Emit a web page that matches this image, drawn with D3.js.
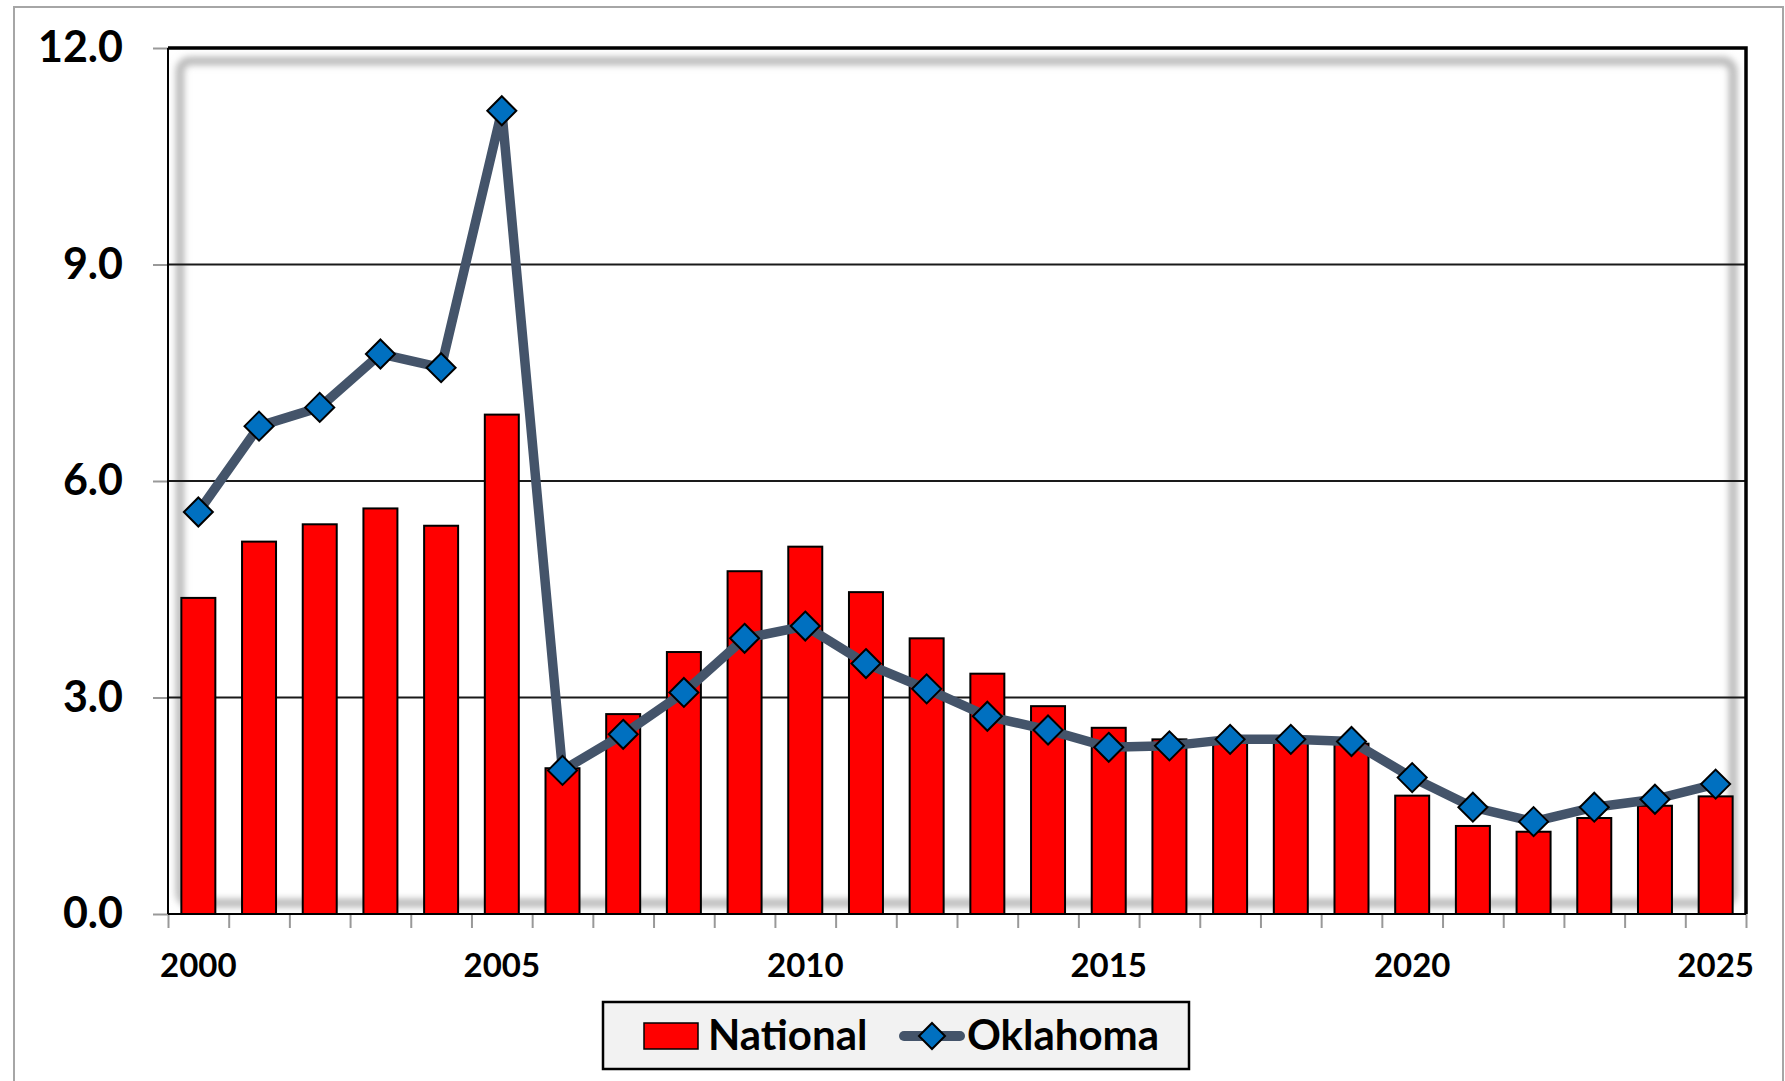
<!DOCTYPE html>
<html>
<head>
<meta charset="utf-8">
<script src="https://cdn.jsdelivr.net/npm/d3@7"></script>
<style>
body { margin: 0; background: #fff; }
text { font-family: Lato, "Open Sans", sans-serif; font-weight: bold; fill: #000; }
</style>
</head>
<body>
<div id="chart"></div>
<script>
var years = [2000, 2001, 2002, 2003, 2004, 2005, 2006, 2007, 2008, 2009, 2010, 2011, 2012,
             2013, 2014, 2015, 2016, 2017, 2018, 2019, 2020, 2021, 2022, 2023, 2024, 2025];
var national = [4.38, 5.16, 5.40, 5.62, 5.38, 6.92, 2.02, 2.77, 3.63, 4.75, 5.09, 4.46, 3.82,
                3.33, 2.88, 2.58, 2.42, 2.38, 2.38, 2.36, 1.64, 1.22, 1.14, 1.33, 1.50, 1.63];
var oklahoma = [5.57, 6.76, 7.02, 7.76, 7.57, 11.13, 1.99, 2.49, 3.07, 3.82, 3.99, 3.47, 3.12,
                2.74, 2.55, 2.31, 2.33, 2.42, 2.42, 2.39, 1.89, 1.48, 1.28, 1.48, 1.59, 1.80];
var yTicks = [0, 3, 6, 9, 12];
var yearLabels = [2000, 2005, 2010, 2015, 2020, 2025];
var seriesNames = ["National", "Oklahoma"];

var width = 1785, height = 1081;
var plot = {left: 168, top: 48, right: 1746, bottom: 914};

var svg = d3.select("#chart")
    .append("svg")
    .attr("width", width)
    .attr("height", height);

// outer chart border (bottom edge runs off the picture)
svg.append("rect")
    .attr("x", 14).attr("y", 7)
    .attr("width", 1769).attr("height", 1100)
    .style("fill", "#fff")
    .style("stroke", "#a6a6a6")
    .style("stroke-width", 2);

var x = d3.scaleBand()
    .domain(years)
    .range([plot.left, plot.right])
    .paddingInner(0.44)
    .paddingOuter(0.22);

// category edges, used for the little tick marks between years
var xEdge = d3.scaleLinear()
    .domain([0, years.length])
    .range([plot.left, plot.right]);

var y = d3.scaleLinear()
    .domain([0, 12])
    .range([plot.bottom, plot.top]);

var defs = svg.append("defs");
var soft = defs.append("filter").attr("id", "soft")
    .attr("x", "-5%").attr("y", "-5%").attr("width", "110%").attr("height", "110%");
soft.append("feGaussianBlur").attr("stdDeviation", 3.5);

// inner shadow of the plot area
svg.append("rect")
    .attr("x", plot.left + 12)
    .attr("y", plot.top + 13)
    .attr("width", plot.right - plot.left - 25)
    .attr("height", plot.bottom - plot.top - 24)
    .attr("rx", 10)
    .style("fill", "none")
    .style("stroke", "#b4b4b4")
    .style("stroke-width", 8)
    .attr("filter", "url(#soft)");

// gridlines
svg.selectAll(".grid")
    .data(yTicks.filter(function(d) { return d > 0 && d < 12; }))
    .enter().append("line")
    .attr("class", "grid")
    .attr("x1", plot.left)
    .attr("x2", plot.right)
    .attr("y1", function(d) { return y(d); })
    .attr("y2", function(d) { return y(d); })
    .style("stroke", "#1a1a1a")
    .style("stroke-width", 2);

// national bars
svg.selectAll(".bar")
    .data(national)
    .enter().append("rect")
    .attr("class", "bar")
    .attr("x", function(d, i) { return x(years[i]); })
    .attr("y", function(d) { return y(d); })
    .attr("width", x.bandwidth())
    .attr("height", function(d) { return y(0) - y(d); })
    .style("fill", "#ff0000")
    .style("stroke", "#000")
    .style("stroke-width", 2);

// y axis
var yAxis = svg.append("g")
    .attr("transform", "translate(" + plot.left + ",0)")
    .call(d3.axisLeft(y).tickValues(yTicks).tickFormat(d3.format(".1f")).tickSize(15).tickPadding(30));
yAxis.select(".domain").remove();
yAxis.selectAll("line").style("stroke", "#999").style("stroke-width", 2);
yAxis.selectAll("text").style("font-size", "43px");

// x ticks between categories
var xTicks = svg.append("g")
    .attr("transform", "translate(0," + plot.bottom + ")")
    .call(d3.axisBottom(xEdge).tickValues(d3.range(years.length + 1)).tickFormat("").tickSize(14));
xTicks.select(".domain").remove();
xTicks.selectAll("line").style("stroke", "#999").style("stroke-width", 2);

// year labels
var xAxis = svg.append("g")
    .attr("transform", "translate(0," + plot.bottom + ")")
    .call(d3.axisBottom(x).tickValues(yearLabels).tickSize(0).tickPadding(40));
xAxis.select(".domain").remove();
xAxis.selectAll("text").style("font-size", "33px");

// plot frame
svg.append("line")
    .attr("x1", plot.left).attr("x2", plot.left)
    .attr("y1", plot.top).attr("y2", plot.bottom)
    .style("stroke", "#000").style("stroke-width", 2);
svg.append("line")
    .attr("x1", plot.left).attr("x2", plot.right)
    .attr("y1", plot.bottom).attr("y2", plot.bottom)
    .style("stroke", "#000").style("stroke-width", 2);
svg.append("path")
    .attr("d", "M" + plot.left + "," + plot.top + "H" + plot.right + "V" + plot.bottom)
    .style("fill", "none")
    .style("stroke", "#000")
    .style("stroke-width", 3.5);

var cx = function(i) { return x(years[i]) + x.bandwidth() / 2; };
var diamond = "M0,-14.5L14.5,0L0,14.5L-14.5,0Z";

// oklahoma line
var line = d3.line()
    .x(function(d, i) { return cx(i); })
    .y(function(d) { return y(d); });

svg.append("path")
    .datum(oklahoma)
    .attr("d", line)
    .style("fill", "none")
    .style("stroke", "#44546a")
    .style("stroke-width", 9.5)
    .style("stroke-linejoin", "round");

svg.selectAll(".pt")
    .data(oklahoma)
    .enter().append("path")
    .attr("class", "pt")
    .attr("d", diamond)
    .attr("transform", function(d, i) { return "translate(" + cx(i) + "," + y(d) + ")"; })
    .style("fill", "#0070c0")
    .style("stroke", "#000")
    .style("stroke-width", 2);

// legend
var legend = svg.append("g").attr("transform", "translate(603,1002)");
legend.append("rect")
    .attr("width", 586).attr("height", 67)
    .style("fill", "#f2f2f2")
    .style("stroke", "#000")
    .style("stroke-width", 2.5);
legend.append("rect")
    .attr("x", 41).attr("y", 21)
    .attr("width", 54).attr("height", 26)
    .style("fill", "#ff0000")
    .style("stroke", "#000")
    .style("stroke-width", 1.5);
legend.append("text")
    .attr("x", 105).attr("y", 48)
    .style("font-size", "42px")
    .text(seriesNames[0]);
legend.append("line")
    .attr("x1", 301).attr("x2", 357)
    .attr("y1", 34).attr("y2", 34)
    .style("stroke", "#44546a")
    .style("stroke-width", 10)
    .style("stroke-linecap", "round");
legend.append("path")
    .attr("d", "M0,-13L13,0L0,13L-13,0Z")
    .attr("transform", "translate(329,34)")
    .style("fill", "#0070c0")
    .style("stroke", "#000")
    .style("stroke-width", 2);
legend.append("text")
    .attr("x", 364).attr("y", 48)
    .style("font-size", "42px")
    .text(seriesNames[1]);
</script>
</body>
</html>
